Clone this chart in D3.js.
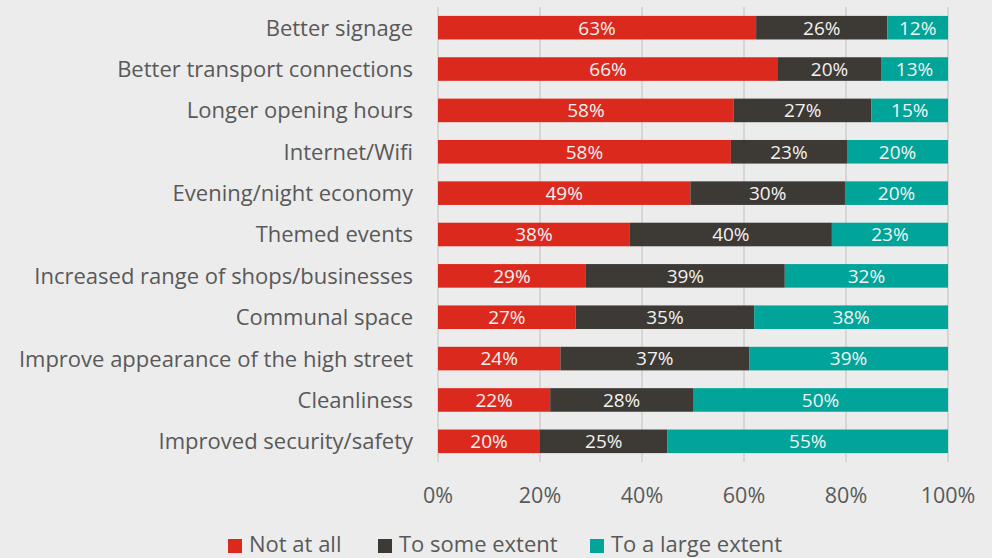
<!DOCTYPE html>
<html>
<head>
<meta charset="utf-8">
<script src="https://cdn.jsdelivr.net/npm/d3@7"></script>
<style>
  body { margin: 0; background: #ececec; }
  svg { display: block; font-family: "Open Sans", sans-serif; }
</style>
</head>
<body>
<div id="chart"></div>
<script>
var categories = ["Better signage", "Better transport connections", "Longer opening hours",
    "Internet/Wifi", "Evening/night economy", "Themed events",
    "Increased range of shops/businesses", "Communal space",
    "Improve appearance of the high street", "Cleanliness", "Improved security/safety"];
var seriesNames = ["Not at all", "To some extent", "To a large extent"];
var notAtAll     = [63, 66, 58, 58, 49, 38, 29, 27, 24, 22, 20];
var someExtent   = [26, 20, 27, 23, 30, 40, 39, 35, 37, 28, 25];
var largeExtent  = [12, 13, 15, 20, 20, 23, 32, 38, 39, 50, 55];
var xTicks = [0, 0.2, 0.4, 0.6, 0.8, 1];
var colors = ["#dc291e", "#3d3935", "#00a499"];

var width = 992, height = 558;
var margin = {top: 7, right: 44, bottom: 96, left: 438};

var rows = categories.map(function(c, i){
    return {cat: c, s0: notAtAll[i], s1: someExtent[i], s2: largeExtent[i]};
});

// 100% stacked, like the original chart
var stack = d3.stack().keys(["s0", "s1", "s2"]).offset(d3.stackOffsetExpand);
var stacked = stack(rows);

var svg = d3.select("#chart").append("svg")
    .attr("width", width)
    .attr("height", height);

var x = d3.scaleLinear().domain([0, 1]).range([margin.left, width - margin.right]);
var y = d3.scaleBand().domain(categories)
    .range([margin.top, height - margin.bottom])
    .paddingInner(0.43).paddingOuter(0.215);

// gridlines
svg.append("g").selectAll("line")
    .data(xTicks)
    .enter().append("line")
    .attr("x1", function(d){ return x(d); })
    .attr("x2", function(d){ return x(d); })
    .attr("y1", margin.top)
    .attr("y2", height - margin.bottom)
    .style("stroke", "#d6d6d6")
    .style("stroke-width", 2);

var groups = svg.selectAll(".series")
    .data(stacked)
    .enter().append("g")
    .attr("class", "series")
    .style("fill", function(d, i){ return colors[i]; });

groups.selectAll("rect")
    .data(function(d){ return d; })
    .enter().append("rect")
    .attr("x", function(d){ return x(d[0]); })
    .attr("width", function(d){ return x(d[1]) - x(d[0]); })
    .attr("y", function(d){ return y(d.data.cat); })
    .attr("height", y.bandwidth());

// value labels
stacked.forEach(function(s){
    svg.append("g").selectAll("text")
        .data(s)
        .enter().append("text")
        .attr("x", function(d){ return (x(d[0]) + x(d[1])) / 2; })
        .attr("y", function(d){ return y(d.data.cat) + y.bandwidth() / 2; })
        .attr("dy", "0.36em")
        .attr("text-anchor", "middle")
        .style("fill", "#f2f2f2")
        .style("font-size", "19px")
        .text(function(d){ return d.data[s.key] + "%"; });
});

// category labels
svg.append("g").selectAll("text")
    .data(categories)
    .enter().append("text")
    .attr("x", margin.left - 25)
    .attr("y", function(d){ return y(d) + y.bandwidth() / 2; })
    .attr("dy", "0.36em")
    .attr("text-anchor", "end")
    .style("fill", "#595959")
    .style("font-size", "22px")
    .text(function(d){ return d; });

// x axis labels
svg.append("g").selectAll("text")
    .data(xTicks)
    .enter().append("text")
    .attr("x", function(d){ return x(d); })
    .attr("y", 495)
    .attr("dy", "0.36em")
    .attr("text-anchor", "middle")
    .style("fill", "#595959")
    .style("font-size", "21.5px")
    .text(function(d){ return d3.format(".0%")(d); });

// legend
var legendX = [228, 378, 590];
var legend = svg.append("g").selectAll("g")
    .data(seriesNames)
    .enter().append("g")
    .attr("transform", function(d, i){ return "translate(" + legendX[i] + ",545)"; });
legend.append("rect")
    .attr("x", 0).attr("y", -6)
    .attr("width", 14).attr("height", 14)
    .style("fill", function(d, i){ return colors[i]; });
legend.append("text")
    .attr("x", 21)
    .attr("dy", "0.3em")
    .style("fill", "#595959")
    .style("font-size", "22px")
    .text(function(d){ return d; });
</script>
</body>
</html>
